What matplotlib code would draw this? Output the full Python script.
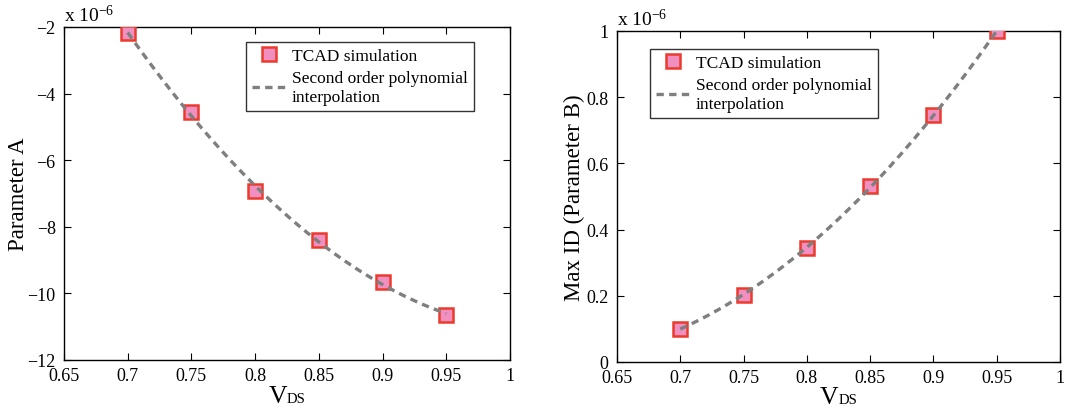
import numpy as np
import matplotlib
matplotlib.use("Agg")
import matplotlib.pyplot as plt

plt.rcParams['font.family'] = ['Liberation Serif', 'DejaVu Serif']
plt.rcParams['mathtext.fontset'] = 'custom'
plt.rcParams['mathtext.rm'] = 'Liberation Serif'
plt.rcParams['mathtext.it'] = 'Liberation Serif:italic'

vds = [0.70, 0.75, 0.80, 0.85, 0.90, 0.95]
param_a = [-2.19, -4.56, -6.93, -8.41, -9.67, -10.64]   # x 1e-6
param_b = [0.101, 0.203, 0.343, 0.531, 0.745, 0.999]    # x 1e-6

x_ticks = [0.65, 0.7, 0.75, 0.8, 0.85, 0.9, 0.95, 1]
x_tick_labels = ['0.65', '0.7', '0.75', '0.8', '0.85', '0.9', '0.95', '1']
a_ticks = [-12, -10, -8, -6, -4, -2]
b_ticks = [0, 0.2, 0.4, 0.6, 0.8, 1]
b_tick_labels = ['0', '0.2', '0.4', '0.6', '0.8', '1']

marker_face = '#f08fc0'
marker_edge = '#ec3a2c'
fit_color = '#7f7f7f'

fig = plt.figure(figsize=(10.82, 4.10), dpi=100)
W, H = 1082, 410
axA = fig.add_axes([64 / W, 1 - 361 / H, (510 - 64) / W, (361 - 28) / H])
axB = fig.add_axes([617 / W, 1 - 363 / H, (1060 - 617) / W, (363 - 32) / H])


def draw(ax, y, yticks, ylabels, ylim, ylabel, ylabel_x, legend_box):
    xs = np.linspace(vds[0], vds[-1], 200)
    coef = np.polyfit(vds, y, 2)
    ax.plot(vds, y, 's', ms=10, mfc=marker_face, mec=marker_edge, mew=1.8,
            label='TCAD simulation', zorder=3)
    ax.plot(xs, np.polyval(coef, xs), '--', color=fit_color, lw=2.4,
            dashes=(2.2, 1.6),
            label='Second order polynomial\ninterpolation', zorder=4)
    ax.set_xlim(0.65, 1.0)
    ax.set_ylim(*ylim)
    ax.set_xticks(x_ticks)
    ax.set_xticklabels(x_tick_labels)
    ax.set_yticks(yticks)
    if ylabels is not None:
        ax.set_yticklabels(ylabels)
    else:
        ax.set_yticklabels(['\u2212%d' % abs(t) if t < 0 else str(t) for t in yticks])
    ax.tick_params(direction='in', top=True, right=True, length=5,
                   labelsize=13, width=0.8)
    ax.tick_params(axis='x', pad=5)
    ax.tick_params(axis='y', pad=6)
    for s in ax.spines.values():
        s.set_linewidth(1.0)
    ax.set_ylabel(ylabel, fontsize=16.5)
    ax.yaxis.set_label_coords(ylabel_x, 0.5)
    # x label: V with a smaller DS
    ax.text(0.5, -0.125, 'V', transform=ax.transAxes, fontsize=18.5,
            ha='right', va='baseline')
    ax.text(0.5, -0.125, 'DS', transform=ax.transAxes, fontsize=10.5,
            ha='left', va='baseline')
    ax.text(0.0, 1.005, r'x 10$^{-6}$', transform=ax.transAxes, fontsize=14,
            ha='left', va='bottom')
    leg = ax.legend(loc='upper left', bbox_to_anchor=legend_box,
                    fontsize=12.5, frameon=True, fancybox=False,
                    borderpad=0.35, handlelength=2.0, handletextpad=0.3,
                    labelspacing=0.35, borderaxespad=0.0)
    leg.get_frame().set_edgecolor('black')
    leg.get_frame().set_linewidth(1.0)


draw(axA, param_a, a_ticks, None, (-12, -2), 'Parameter A', -0.078,
     ((246 - 64) / (510 - 64), 1 - (43 - 28) / (361 - 28)))
draw(axB, param_b, b_ticks, b_tick_labels, (0, 1), 'Max ID (Parameter B)', -0.072,
     ((650 - 617) / (1060 - 617), 1 - (50 - 32) / (363 - 32)))

fig.savefig('out.png', dpi=100)
